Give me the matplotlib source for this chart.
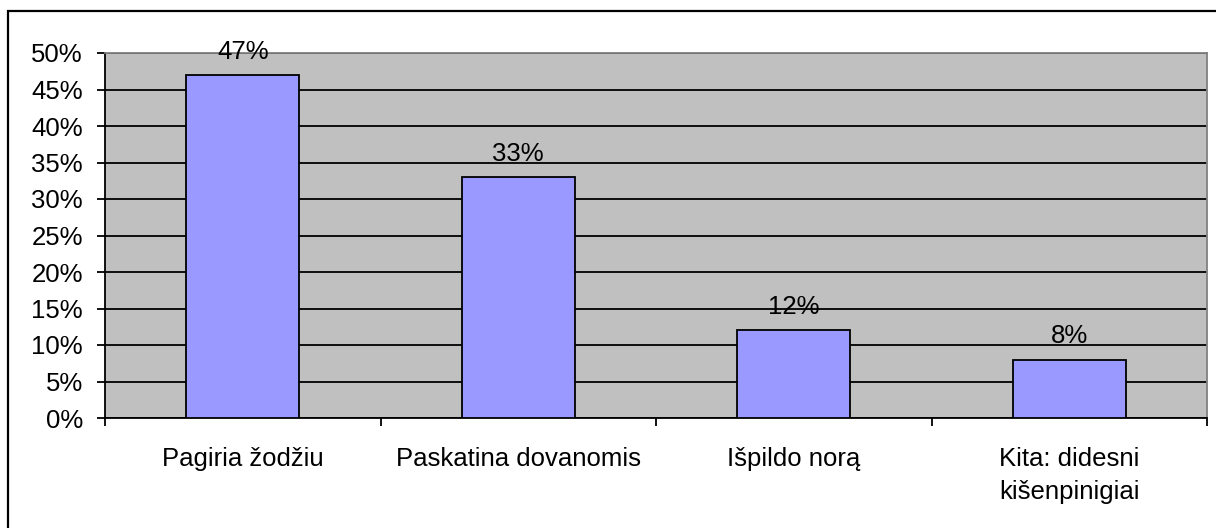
import numpy as np
import matplotlib.pyplot as plt
from matplotlib.patches import Rectangle
from matplotlib.ticker import PercentFormatter

plt.rcParams['font.family'] = ['Liberation Sans', 'DejaVu Sans']

# duomenys
categories = ['Pagiria žodžiu', 'Paskatina dovanomis', 'Išpildo norą',
              'Kita: didesni\nkišenpinigiai']
values = [47, 33, 12, 8]

W, H = 1216, 528
FS = 18.5
fig = plt.figure(figsize=(W / 100, H / 100), dpi=100)
fig.patch.set_facecolor('white')

# išorinis rėmelis (dešinė ir apačia už paveikslo ribų)
fig.patches.append(Rectangle((8 / W, -0.1), 1.2, (528 - 11) / H + 0.1,
                             transform=fig.transFigure, fill=False,
                             edgecolor='black', linewidth=1.6))

left, right, top, bottom = 105, 1207, 53, 418
ax = fig.add_axes([left / W, 1 - bottom / H, (right - left) / W, (bottom - top) / H])
ax.set_facecolor('#C0C0C0')

x = np.arange(len(categories))
bars = ax.bar(x, values, width=0.41, color='#9999FF', edgecolor='black',
              linewidth=1.3, zorder=3)

for b, v in zip(bars, values):
    ax.annotate(f'{v}%', (b.get_x() + b.get_width() / 2, v),
                xytext=(0, 8), textcoords='offset points',
                ha='center', va='bottom', fontsize=FS, zorder=4)

ax.set_xlim(-0.5, len(categories) - 0.5)
ax.set_ylim(0, 50)
ax.set_yticks(np.arange(0, 51, 5))
ax.yaxis.set_major_formatter(PercentFormatter(decimals=0))
ax.grid(axis='y', color='black', linewidth=1.3, zorder=1)
ax.set_axisbelow(True)

# x ašies žymės tarp kategorijų
ax.set_xticks(np.arange(-0.5, len(categories), 1.0))
ax.set_xticklabels([])
ax.set_xticks(x, minor=True)
ax.set_xticklabels(categories, minor=True, fontsize=FS, linespacing=1.48)
ax.tick_params(axis='x', which='minor', length=0, pad=21)
ax.tick_params(axis='x', which='major', length=6, width=1.3, direction='out')
ax.tick_params(axis='y', length=6, width=1.3, labelsize=FS, pad=10)

for s in ['left', 'bottom']:
    ax.spines[s].set_color('black')
    ax.spines[s].set_linewidth(1.3)
for s in ['top', 'right']:
    ax.spines[s].set_color('#808080')
    ax.spines[s].set_linewidth(1.3)

fig.savefig('out.png', dpi=100)
